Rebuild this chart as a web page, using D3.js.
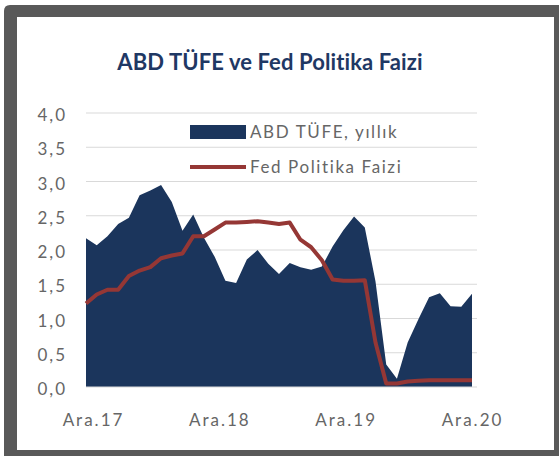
<!DOCTYPE html>
<html>
<head>
<meta charset="utf-8">
<script src="https://cdn.jsdelivr.net/npm/d3@7"></script>
<style>
html,body{margin:0;padding:0;background:#fff;}
svg{display:block;}
</style>
</head>
<body>
<svg id="chart" width="559" height="456"></svg>
<script>
// ---- data ----
const months = ["Ara.17","Oca.18","Şub.18","Mar.18","Nis.18","May.18","Haz.18","Tem.18","Ağu.18","Eyl.18","Eki.18","Kas.18",
  "Ara.18","Oca.19","Şub.19","Mar.19","Nis.19","May.19","Haz.19","Tem.19","Ağu.19","Eyl.19","Eki.19","Kas.19",
  "Ara.19","Oca.20","Şub.20","Mar.20","Nis.20","May.20","Haz.20","Tem.20","Ağu.20","Eyl.20","Eki.20","Kas.20","Ara.20"];
const cpi = [2.17,2.07,2.2,2.38,2.47,2.8,2.87,2.95,2.7,2.28,2.52,2.18,
  1.9,1.55,1.52,1.86,2.0,1.8,1.65,1.81,1.75,1.71,1.76,2.05,
  2.29,2.49,2.33,1.54,0.33,0.12,0.65,0.99,1.31,1.37,1.18,1.17,1.36];
const fed = [1.22,1.35,1.42,1.42,1.62,1.7,1.75,1.88,1.92,1.95,2.2,2.2,
  2.3,2.4,2.4,2.41,2.42,2.4,2.38,2.4,2.15,2.04,1.85,1.57,
  1.55,1.55,1.56,0.65,0.05,0.05,0.08,0.09,0.1,0.1,0.1,0.1,0.1];
const xTickLabels = ["Ara.17","Ara.18","Ara.19","Ara.20"];
const yTicks = [0,0.5,1,1.5,2,2.5,3,3.5,4];
const title = "ABD TÜFE ve Fed Politika Faizi";
const legendLabels = ["ABD TÜFE, yıllık","Fed Politika Faizi"];

// ---- layout ----
const svg = d3.select("#chart");
const navy = "#1b355c", red = "#953735", gray = "#666666";
const mLeft = 86, mRight = 472, mTop = 113, mBottom = 387;
const font = "Lato, 'Open Sans', sans-serif";

// frame
svg.append("path")
  .attr("d","M4,11 Q4,5 10,5 L559,5 L559,456 L4,456 Z")
  .attr("fill","#595959");
svg.append("rect").attr("x",17).attr("y",17).attr("width",537).attr("height",433).attr("fill","#fff");

const x = d3.scalePoint().domain(months).range([mLeft,mRight]);
const y = d3.scaleLinear().domain([0,4]).range([mBottom,mTop]);
const xLab = d3.scalePoint().domain(xTickLabels).range([93,472]);

// gridlines
svg.append("g").selectAll("line").data(yTicks.filter(d=>d>0)).join("line")
  .attr("x1",mLeft).attr("x2",477)
  .attr("y1",d=>y(d)).attr("y2",d=>y(d))
  .attr("stroke","#d9d9d9").attr("stroke-width",1.2);

// y axis labels
const yAxis = d3.axisLeft(y).tickValues(yTicks).tickSize(0).tickPadding(0)
  .tickFormat(d=>d3.format(".1f")(d).replace(".",","));
const gy = svg.append("g").attr("transform","translate(67,1.5)").call(yAxis);
gy.select(".domain").remove();
gy.selectAll("text").attr("fill",gray).style("font-family",font)
  .style("font-size","17px").style("letter-spacing","2px").attr("dy","0.36em");

// area
const area = d3.area().x((d,i)=>x(months[i])).y0(y(0)).y1(d=>y(d));
svg.append("path").datum(cpi).attr("d",area).attr("fill",navy);

// baseline
svg.append("line").attr("x1",mLeft).attr("x2",477).attr("y1",y(0)).attr("y2",y(0))
  .attr("stroke","#d9d9d9").attr("stroke-width",1.2);

// line
const line = d3.line().x((d,i)=>x(months[i])).y(d=>y(d));
svg.append("path").datum(fed).attr("d",line).attr("fill","none")
  .attr("stroke",red).attr("stroke-width",4).attr("stroke-linejoin","round");

// x axis labels
const xAxis = d3.axisBottom(xLab).tickSize(0).tickPadding(0);
const gx = svg.append("g").attr("transform","translate(0,414)").call(xAxis);
gx.select(".domain").remove();
gx.selectAll("text").attr("fill",gray).style("font-family",font)
  .style("font-size","17px").style("letter-spacing","2px").attr("dy","0.7em");

// title
svg.append("text").attr("x",270).attr("y",70).attr("text-anchor","middle")
  .attr("fill","#1f3864").style("font-family","Lato, sans-serif").style("font-weight","bold")
  .style("font-size","22px").style("letter-spacing","0.1px").text(title);

// legend
const lg = svg.append("g");
lg.append("rect").attr("x",190).attr("y",125).attr("width",56).attr("height",14).attr("fill",navy);
lg.append("line").attr("x1",190).attr("x2",246).attr("y1",167).attr("y2",167)
  .attr("stroke",red).attr("stroke-width",4);
lg.selectAll("text").data(legendLabels).join("text")
  .attr("x",250).attr("y",(d,i)=>132+i*35).attr("dy","0.36em")
  .attr("fill",gray).style("font-family",font)
  .style("font-size","17px").style("letter-spacing","1.6px").text(d=>d);
</script>
</body>
</html>
